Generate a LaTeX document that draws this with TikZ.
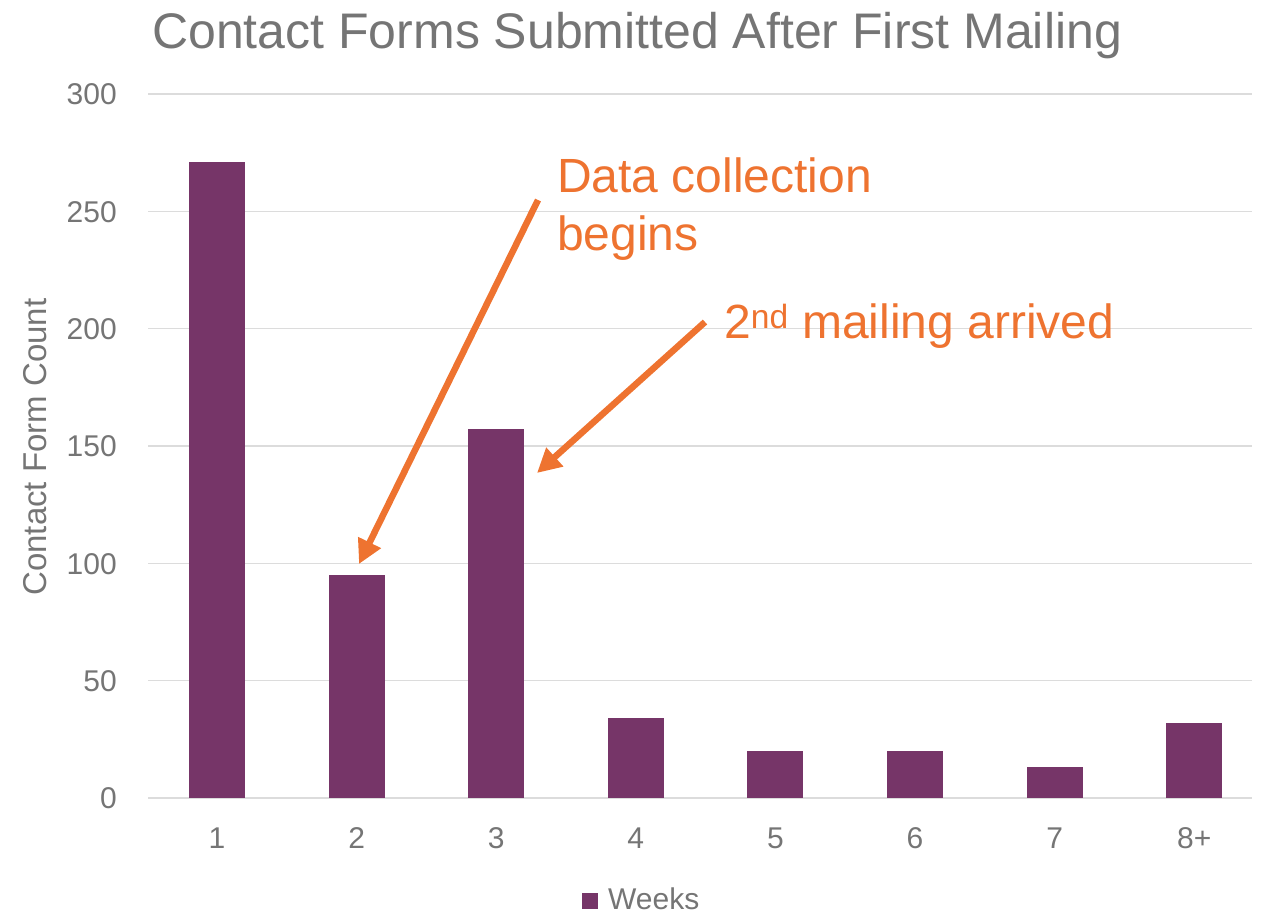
\documentclass[tikz,border=0pt]{standalone}
\usepackage{fontspec}
\setmainfont{Liberation Sans}
\usetikzlibrary{arrows.meta}
\definecolor{barcol}{HTML}{763568}
\definecolor{anncol}{HTML}{EE7330}
\definecolor{txtcol}{HTML}{757575}
\definecolor{gridcol}{HTML}{DCDCDC}
\begin{document}
\begin{tikzpicture}[x=1pt,y=-1pt,
  gridline/.style={draw=gridcol,line width=1.6pt},
  barbox/.style={fill=barcol,draw=none,inner sep=0pt,minimum width=56pt,anchor=south},
  ticklab/.style={text=txtcol,inner sep=0pt,font=\fontsize{30}{36}\selectfont},
  anntext/.style={text=anncol,inner sep=0pt,font=\fontsize{48}{58}\selectfont,align=left},
  annarrow/.style={draw=anncol,line width=6.5pt,-{Triangle[width=24pt,length=24pt]}}
]
\useasboundingbox (0,0) rectangle (1268,913);
% title
\node[anchor=base west,inner sep=0pt,text=txtcol,font=\fontsize{50}{60}\selectfont] (title) at (152,48) {Contact Forms Submitted After First Mailing};
% grid
\foreach \v in {0,50,...,300}{
  \draw[gridline] (148,{798-\v*2.34667}) -- (1252,{798-\v*2.34667});
  \node[ticklab,anchor=base east] (y\v) at (117,{798-\v*2.34667+10.7}) {\v};
}
% bars
\foreach \i/\val/\lab in {1/271/1,2/95/2,3/157/3,4/34/4,5/20/5,6/20/6,7/13/7,8/32/8+}{
  \node[barbox,minimum height={\val*2.34667pt}] (bar\i) at ({217+(\i-1)*139.6},798) {};
  \node[ticklab,anchor=base] (x\i) at ({217+(\i-1)*139.6},848) {\lab};
}
% axis title
\node[ticklab,font=\fontsize{33}{40}\selectfont,rotate=90] (ytitle) at (35,447) {Contact Form Count};
% legend
\node[fill=barcol,inner sep=0pt,minimum size=16pt] (legsq) at (590,901) {};
\node[ticklab,anchor=base west] (legtxt) at (608,909) {Weeks};
% annotations
\node[anntext,anchor=north west] (ann1) at (557,157.6) {Data collection\\begins};
\node[anntext,anchor=base west] (ann2) at (724,338) {2\textsuperscript{nd} mailing arrived};
\coordinate (a1s) at (538,200);
\coordinate (a1e) at (359,564);
\coordinate (a2s) at (705,322);
\coordinate (a2e) at (537,473);
\draw[annarrow] (a1s) -- (a1e);
\draw[annarrow] (a2s) -- (a2e);
\end{tikzpicture}
\end{document}
